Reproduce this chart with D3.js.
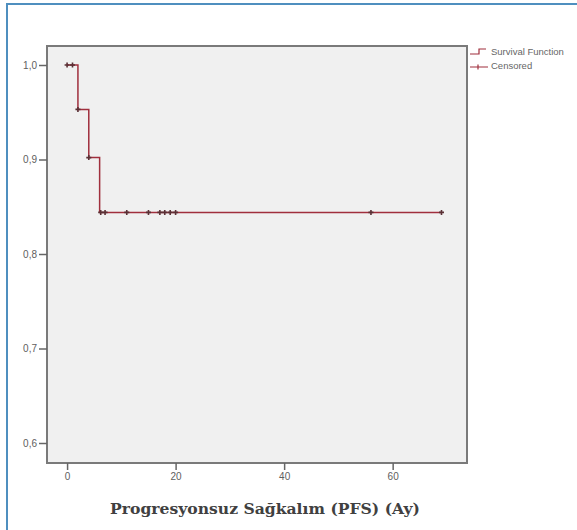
<!DOCTYPE html>
<html>
<head>
<meta charset="utf-8">
<script src="https://cdn.jsdelivr.net/npm/d3@7"></script>
<style>
  body { margin: 0; background: #fff; }
  svg { display: block; }
</style>
</head>
<body>
<div id="chart"></div>
<script>
// step function (Kaplan-Meier)
var km_times = [0, 2, 4, 6, 69]
var km_surv = [1.0, 0.953, 0.902, 0.844, 0.844]

// censored marks
var cens_times = [0, 1, 2, 4, 6.2, 7, 11, 15, 17.1, 18, 19, 20, 56, 69]
var cens_surv = [1.0, 1.0, 0.953, 0.902, 0.844, 0.844, 0.844, 0.844, 0.844, 0.844, 0.844, 0.844, 0.844, 0.844]

var x_ticks = [0, 20, 40, 60]
var y_ticks = [0.6, 0.7, 0.8, 0.9, 1.0]
var legend_labels = ['Survival Function', 'Censored']
var x_title = 'Progresyonsuz Sağkalım (PFS) (Ay)'

var width = 577
var height = 530
var plot = { left: 47, right: 467, top: 46, bottom: 463 }
var lineColor = '#a02f3d'
var markColor = '#5a3035'

var svg = d3.select('#chart')
  .append('svg')
    .attr('width', width)
    .attr('height', height)

// blue picture border (open to the right / bottom)
svg.append('path')
  .attr('d', 'M7,' + height + 'V4H' + width)
  .attr('fill', 'none')
  .attr('stroke', '#4f8fbf')
  .attr('stroke-width', 2)

var x = d3.scaleLinear()
  .domain([-3.7, 73.7])
  .range([plot.left, plot.right])

var y = d3.scaleLinear()
  .domain([0.6, 1.0])
  .range([443, 65])

// plot background + frame
svg.append('rect')
  .attr('x', plot.left)
  .attr('y', plot.top)
  .attr('width', plot.right - plot.left)
  .attr('height', plot.bottom - plot.top)
  .attr('fill', '#f0f0f0')
  .attr('stroke', '#7a7a7a')
  .attr('stroke-width', 2)

// y axis
var yAxis = svg.append('g')
  .attr('transform', 'translate(' + plot.left + ',0)')
  .call(d3.axisLeft(y)
    .tickValues(y_ticks)
    .tickSize(8)
    .tickPadding(2)
    .tickFormat(d => d3.format('.1f')(d).replace('.', ',')))
yAxis.select('.domain').remove()
yAxis.selectAll('line').attr('stroke', '#666').attr('stroke-width', 1.5)
yAxis.selectAll('text')
  .attr('fill', '#5e5e5e')
  .style('font-family', 'Liberation Sans, Arial, sans-serif')
  .style('font-size', '10px')

// x axis
var xAxis = svg.append('g')
  .attr('transform', 'translate(0,' + plot.bottom + ')')
  .call(d3.axisBottom(x)
    .tickValues(x_ticks)
    .tickSize(7)
    .tickPadding(3)
    .tickFormat(d3.format('d')))
xAxis.select('.domain').remove()
xAxis.selectAll('line').attr('stroke', '#666').attr('stroke-width', 1.5)
xAxis.selectAll('text')
  .attr('fill', '#5e5e5e')
  .style('font-family', 'Liberation Sans, Arial, sans-serif')
  .style('font-size', '10px')

// x title
svg.append('text')
  .attr('x', 265)
  .attr('y', 514)
  .attr('text-anchor', 'middle')
  .attr('fill', '#404040')
  .style('font-family', 'DejaVu Serif, serif')
  .style('font-size', '15.6px')
  .style('font-weight', '600')
  .text(x_title)

// survival step line
var stepData = km_times.map((t, i) => ({ t: t, s: km_surv[i] }))
var line = d3.line()
  .x(d => x(d.t))
  .y(d => y(d.s))
  .curve(d3.curveStepAfter)

svg.append('path')
  .datum(stepData)
  .attr('d', line)
  .attr('fill', 'none')
  .attr('stroke', lineColor)
  .attr('stroke-width', 1.5)

// censored "+" marks
var cens = cens_times.map((t, i) => ({ t: t, s: cens_surv[i] }))
svg.selectAll('.cens')
  .data(cens)
  .enter()
  .append('path')
    .attr('class', 'cens')
    .attr('transform', d => 'translate(' + x(d.t) + ',' + y(d.s) + ')')
    .attr('d', 'M-2.5,0H2.5M0,-2.5V2.5')
    .attr('stroke', markColor)
    .attr('stroke-width', 1.6)

// legend
var lg = svg.append('g').attr('transform', 'translate(470,0)')
lg.append('path')
  .attr('d', 'M0,54H9V49H16')
  .attr('fill', 'none')
  .attr('stroke', lineColor)
  .attr('stroke-width', 1.2)
lg.append('path')
  .attr('d', 'M0,67H18M8,64.5V69.5')
  .attr('fill', 'none')
  .attr('stroke', lineColor)
  .attr('stroke-width', 1.2)
lg.selectAll('.lg-text')
  .data(legend_labels)
  .enter()
  .append('text')
    .attr('x', 21)
    .attr('y', (d, i) => 55 + i * 14)
    .attr('fill', '#666')
    .style('font-family', 'Liberation Sans, Arial, sans-serif')
    .style('font-size', '9.5px')
    .text(d => d)
</script>
</body>
</html>
